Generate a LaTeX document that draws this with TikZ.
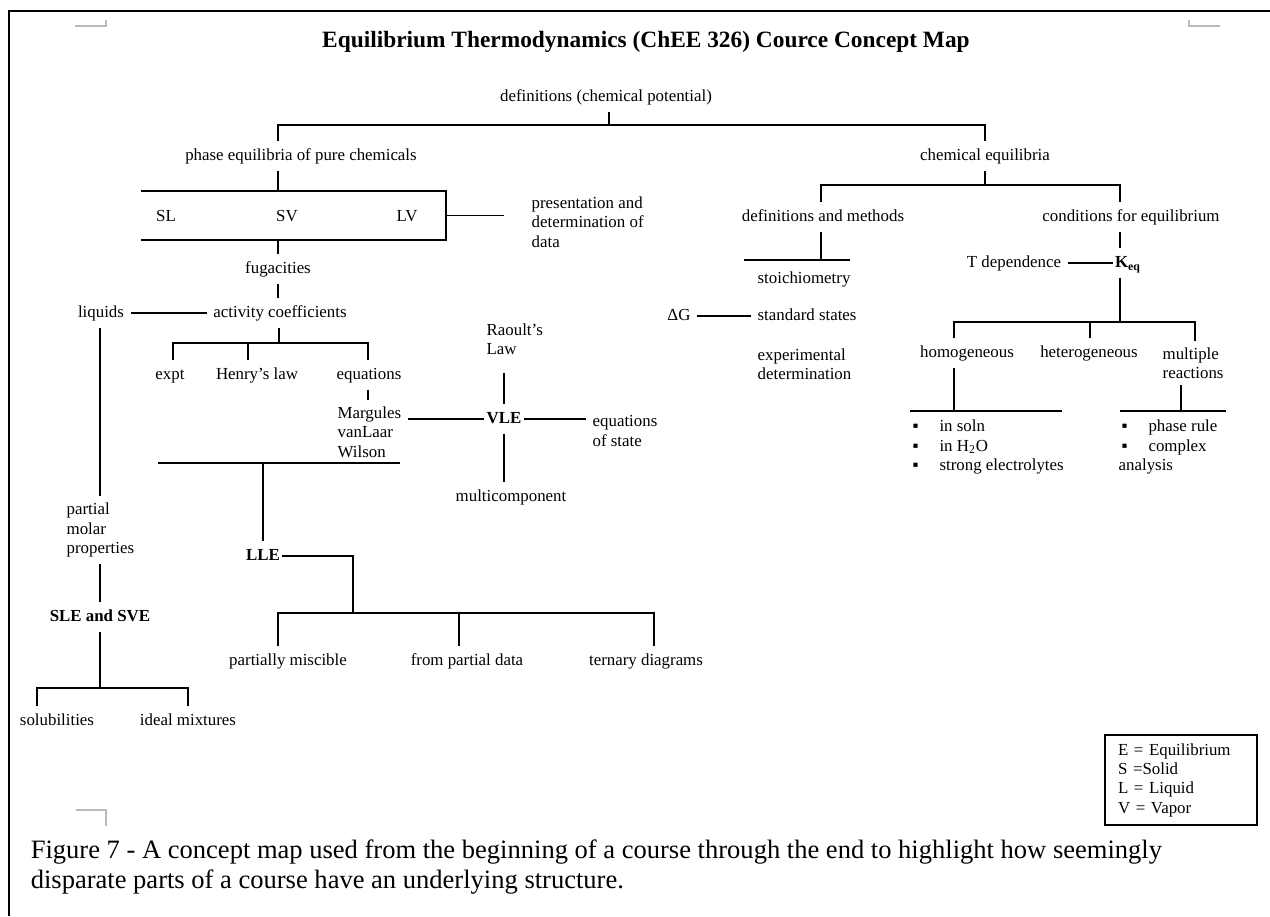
\documentclass[tikz,border=0pt]{standalone}
\usepackage{fontspec}
\setmainfont{Liberation Serif}
\usetikzlibrary{positioning}
\tikzset{
  lbl/.style={text height=0.7em,text depth=0.2em},
  lines/.style={align=left,anchor=west},
  keyword/.style={lbl,font=\fontsize{9.6}{11}\selectfont\bfseries,inner xsep=1pt},
  cornermark/.style={gray!55,line width=0.6pt}
}
\newcommand{\bul}{\makebox[15.3pt][l]{▪}}

\begin{document}
\begin{tikzpicture}[x=0.2mm,y=-0.2mm,font=\fontsize{9.6}{11}\selectfont,line width=0.9pt]
\useasboundingbox (0,0) rectangle (1270,916);
\draw[line width=1.3pt] (1270,11) -- (9,11) -- (9,916);
\draw[cornermark] (75,26) -- (106,26) -- (106,20);
\draw[cornermark] (1189,20) -- (1189,26) -- (1220,26);
\draw[cornermark] (76,810) -- (106,810) -- (106,826);

\node[font=\fontsize{13.3}{16}\selectfont\bfseries] (title) at (646,42) {Equilibrium Thermodynamics (ChEE 326) Cource Concept Map};

% phase equilibria side
\node[lbl] (defs) at (606,97) {definitions (chemical potential)};
\node[lbl] (phase) at (301,156) {phase equilibria of pure chemicals};
\node[lbl] (chem) at (985,156) {chemical equilibria};
\node[minimum width=6.06cm,minimum height=0.94cm] (phbox) at (293.5,215.5) {};
\node[lbl] (sl) at (166,217) {SL};
\node[lbl] (sv) at (287,217) {SV};
\node[lbl] (lv) at (407,217) {LV};
\node[lines] (pres) at (525,222) {presentation and\\determination of\\data};
\node[lbl] (fug) at (278,269) {fugacities};
\node[lbl] (act) at (280,313) {activity coefficients};
\node[lbl] (liq) at (101,313) {liquids};
\node[lbl] (expt) at (170,375) {expt};
\node[lbl] (henry) at (257,375) {Henry's law};
\node[lbl] (eqn) at (369,375) {equations};
\node[lines] (marg) at (331,432) {Margules\\vanLaar\\Wilson};
\node[keyword] (vle) at (504,419) {VLE};
\node[lines] (eos) at (586,431) {equations\\of state};
\node[lines] (raoult) at (480,339) {Raoult's\\Law};
\node[lbl] (multi) at (511,497) {multicomponent};
\node[keyword] (lle) at (263,556) {LLE};
\node[lines] (pmp) at (60,530) {partial\\molar\\properties};
\node[keyword] (sle) at (100,617) {SLE and SVE};
\node[lbl] (sol) at (57,721) {solubilities};
\node[lbl] (ideal) at (188,721) {ideal mixtures};
\node[lbl] (pm) at (288,661) {partially miscible};
\node[lbl] (fpd) at (467,661) {from partial data};
\node[lbl] (tern) at (646,661) {ternary diagrams};

% chemical equilibria side
\node[lbl] (dm) at (823,217) {definitions and methods};
\node[lbl] (cond) at (1131,217) {conditions for equilibrium};
\node[lbl,anchor=west] (stoi) at (751,279) {stoichiometry};
\node[lbl,anchor=west] (std) at (751,316) {standard states};
\node[lines] (expd) at (751,364) {experimental\\determination};
\node[lbl] (dG) at (679,316) {ΔG};
\node[keyword] (keq) at (1128,263) {K\textsubscript{eq}};
\node[lbl] (tdep) at (1014,263) {T dependence};
\node[lbl] (homo) at (967,353) {homogeneous};
\node[lbl] (hetero) at (1089,353) {heterogeneous};
\node[lines] (mult) at (1156,363) {multiple\\reactions};
\node[lines] (soln) at (906,447) {\bul in soln\\\bul in H\textsubscript{2}O\\\bul strong electrolytes};
\node[lines] (prule) at (1112,447) {\hspace{1.7pt}\bul phase rule\\\hspace{1.7pt}\bul complex\\analysis};

\node[draw,line width=1pt,minimum height=1.8cm,text width=2.52cm,inner xsep=0.26cm,align=left] (legend) at (1181,780) {E = Equilibrium\\S =Solid\\L = Liquid\\V = Vapor};
\node[anchor=west,align=left,inner sep=0pt,font=\fontsize{15.1}{16.6}\selectfont] (caption) at (30,867) {Figure 7 - A concept map used from the beginning of a course through the end to highlight how seemingly\\disparate parts of a course have an underlying structure.};

\coordinate (b1) at (609,125);
\coordinate (ab) at (279,343);
\coordinate (abL) at (173,343);
\coordinate (abM) at (248,343);
\coordinate (abR) at (368,343);
\coordinate (wL) at (158,463);
\coordinate (wR) at (400,463);
\coordinate (lb) at (353,613);
\coordinate (lbL) at (278,613);
\coordinate (lbM) at (459,613);
\coordinate (lbR) at (654,613);
\coordinate (sbL) at (37,688);
\coordinate (sbR) at (188,688);
\coordinate (cb) at (985,185);
\coordinate (cbL) at (821,185);
\coordinate (cbR) at (1120,185);
\coordinate (db) at (821,260);
\coordinate (dbL) at (744,260);
\coordinate (dbR) at (850,260);
\coordinate (kb) at (1120,322);
\coordinate (kbL) at (954,322);
\coordinate (kbM) at (1090,322);
\coordinate (kbR) at (1195,322);
\coordinate (hb) at (954,411);
\coordinate (hbL) at (910,411);
\coordinate (hbR) at (1062,411);
\coordinate (mb) at (1181,411);
\coordinate (mbL) at (1120,411);
\coordinate (mbR) at (1226,411);

\draw (defs.south -| b1) -- (b1);
\draw (phase.north -| fug) |- (b1) -| (chem.north);
\draw (phase.south -| fug) -- (phbox.north -| fug);
\draw (phbox.north west) -- (phbox.north east) -- (phbox.south east) -- (phbox.south west);
\draw[shorten >=12pt] (phbox.east) -- (pres.west |- phbox.east);
\draw (phbox.south -| fug) -- (fug);
\draw (fug) -- (fug |- act.north);
\draw (liq) -- (act);
\draw (act.south -| ab) -- (ab);
\draw (expt.north -| abL) |- (abR) -- (eqn.north -| abR);
\draw (abM) -- (henry.north -| abM);
\draw (eqn.south -| abR) -- (marg.north -| abR);
\draw (marg.east |- vle) -- (vle);
\draw (vle) -- (eos.west |- vle);
\draw[shorten >=6.8pt] (vle) -- (vle |- raoult.south);
\draw (vle) -- (vle |- multi.north);
\draw (wL) -- (wR);
\draw (lle) -- (lle |- wL);
\draw (lle) -| (lb);
\draw (pm.north -| lbL) |- (lbR) -- (tern.north -| lbR);
\draw (lbM) -- (fpd.north -| lbM);
\draw (liq.south -| sle) -- (pmp.north -| sle);
\draw (pmp.south -| sle) -- (sle);
\draw (sle) -- (sle |- sbL);
\draw (sol.north -| sbL) |- (sbR) -- (ideal.north);

\draw (chem) -- (chem |- cb);
\draw (dm.north -| cbL) |- (cbR) -- (cond.north -| cbR);
\draw (dm.south -| db) -- (db);
\draw (dbL) -- (dbR);
\draw (dG) -- (std);
\draw (cond.south -| cbR) -- (keq.north -| cbR);
\draw (tdep) -- (keq);
\draw (keq.south -| kb) -- (kb);
\draw (homo.north -| kbL) |- (kbR) -- (mult.north -| kbR);
\draw (kbM) -- (hetero.north -| kbM);
\draw (homo.south -| hb) -- (hb);
\draw (hbL) -- (hbR);
\draw (mult.south -| mb) -- (mb);
\draw (mbL) -- (mbR);
\end{tikzpicture}
\end{document}
